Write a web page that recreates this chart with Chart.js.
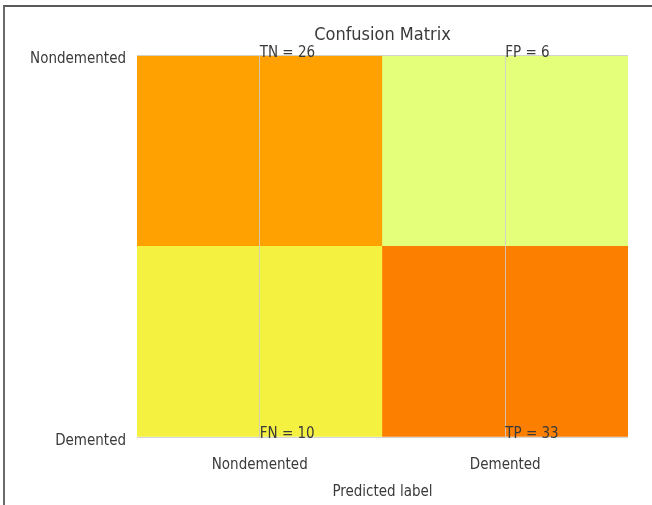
<!DOCTYPE html>
<html>
<head>
<meta charset="utf-8">
<script src="https://cdn.jsdelivr.net/npm/chart.js@4.4.0/dist/chart.umd.min.js"></script>
<style>
  html, body { margin: 0; padding: 0; background: #fff; }
  #wrap { position: relative; width: 652px; height: 505px; overflow: hidden; }
  #frame { position: absolute; left: 3px; top: 5px; right: -10px; bottom: -10px;
           border-top: 2px solid #5a5a5a; border-left: 2px solid #6a6a6a; pointer-events: none; }
  canvas { position: absolute; left: 0; top: 0; }
</style>
</head>
<body>
<div id="wrap">
  <canvas id="c" width="652" height="505"></canvas>
  <div id="frame"></div>
</div>
<script>
// ---- data ----
const predictedLabels = ['Nondemented', 'Demented'];   // x axis (columns)
const actualLabels = ['Nondemented', 'Demented'];      // y axis (rows, top to bottom)
const rowNondemented = [26, 6];                        // TN, FP
const rowDemented = [10, 33];                          // FN, TP
const namesNondemented = ['TN', 'FP'];
const namesDemented = ['FN', 'TP'];
const chartTitle = 'Confusion Matrix';
const xTitle = 'Predicted label';

// ---- colour map (matplotlib "Wistia") ----
const wistia = [[228,255,122],[255,232,26],[255,189,0],[255,160,0],[252,127,0]];
const allVals = rowNondemented.concat(rowDemented);
const vMin = Math.min(...allVals), vMax = Math.max(...allVals);
function cmap(v) {
  const t = (v - vMin) / (vMax - vMin);
  const p = t * (wistia.length - 1);
  const i = Math.min(Math.floor(p), wistia.length - 2);
  const f = p - i;
  const c = wistia[i].map((a, k) => Math.round(a + (wistia[i + 1][k] - a) * f));
  return `rgb(${c[0]},${c[1]},${c[2]})`;
}

const FONT = "'DejaVu Sans Condensed', 'Liberation Sans Narrow', 'Arial Narrow', sans-serif";
const TXT = '#3a3a3a';
const GRID = 'rgba(205,205,205,0.85)';

// rows stacked from bottom: Demented row first, Nondemented row on top
const rows = [
  { counts: rowDemented, names: namesDemented },
  { counts: rowNondemented, names: namesNondemented }
];

const annotate = {
  id: 'annotate',
  afterDraw(chart) {
    const ctx = chart.ctx;
    const xs = chart.scales.x, ys = chart.scales.y;
    ctx.save();
    ctx.font = '15px ' + FONT;
    ctx.fillStyle = TXT;
    ctx.textAlign = 'left';
    ctx.textBaseline = 'alphabetic';
    rows.forEach((r, ri) => {
      const yPix = ys.getPixelForValue(ri === 1 ? ys.max : ys.min);
      r.counts.forEach((v, ci) => {
        const xPix = xs.getPixelForValue(ci);
        ctx.fillText(r.names[ci] + ' = ' + v, xPix, yPix + 1);
      });
    });
    ctx.restore();
  }
};

new Chart(document.getElementById('c'), {
  type: 'bar',
  data: {
    labels: predictedLabels,
    datasets: rows.map((r) => ({
      data: r.counts.map(() => 1),
      counts: r.counts,
      backgroundColor: r.counts.map(cmap),
      borderWidth: 0,
      barPercentage: 1,
      categoryPercentage: 1
    }))
  },
  options: {
    responsive: false,
    animation: false,
    layout: { padding: { left: 0, right: 24, top: 0, bottom: 0 } },
    plugins: {
      legend: { display: false },
      tooltip: { enabled: false },
      title: {
        display: true,
        text: chartTitle,
        fullSize: false,
        color: TXT,
        font: { family: FONT, size: 18, weight: 'normal' },
        padding: { top: 25, bottom: 9 }
      }
    },
    scales: {
      x: {
        stacked: true,
        offset: true,
        grid: { offset: false, drawTicks: false, color: GRID, lineWidth: 1, z: 1 },
        border: { display: false },
        ticks: { color: TXT, font: { family: FONT, size: 15 }, padding: 19 },
        title: { display: true, text: xTitle, color: TXT, font: { family: FONT, size: 15 }, padding: { top: 0, bottom: 4 } },
        afterFit(s) { s.height = 68; }
      },
      y: {
        stacked: true,
        min: 0,
        max: 2,
        grid: { drawTicks: false, color: GRID, lineWidth: 1, z: 1 },
        border: { display: false },
        afterBuildTicks(s) { s.ticks = [{ value: 0 }, { value: 2 }]; },
        ticks: {
          color: TXT,
          font: { family: FONT, size: 15 },
          padding: 11,
          labelOffset: 4,
          callback: (v) => v === 2 ? actualLabels[0] : actualLabels[1]
        },
        afterFit(s) { s.width = 137; }
      }
    }
  },
  plugins: [annotate]
});
</script>
</body>
</html>
